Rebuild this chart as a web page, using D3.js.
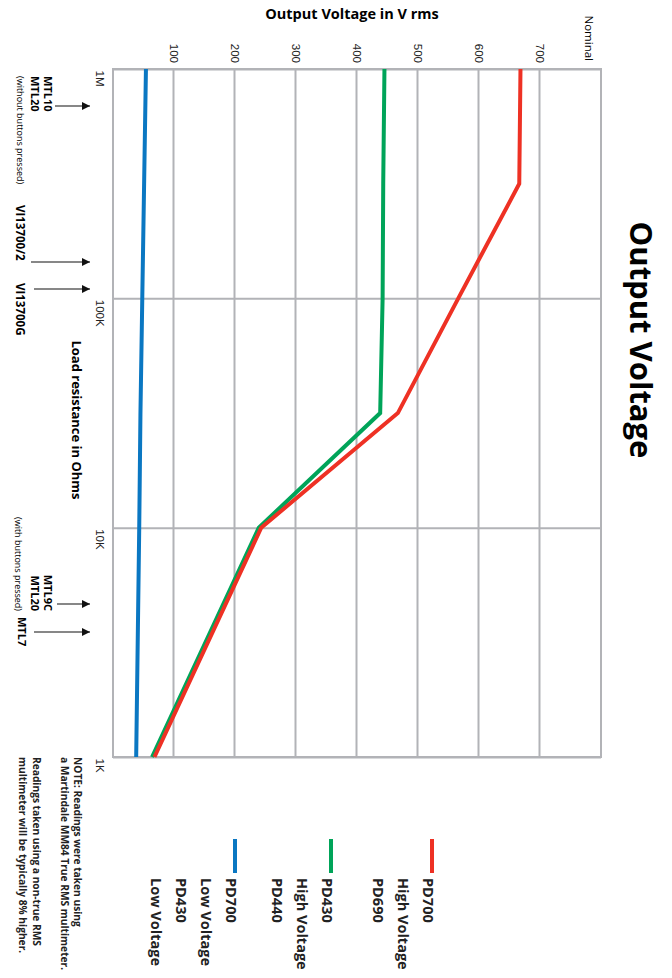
<!DOCTYPE html>
<html>
<head>
<meta charset="utf-8">
<script src="https://cdn.jsdelivr.net/npm/d3@7"></script>
<style>
  body { margin: 0; background: #fff; }
  svg { display: block; font-family: 'Open Sans', sans-serif; }
  .grid line { stroke: #b2b3b7; stroke-width: 2; }
  .grid path { display: none; }
  .grid text { font-size: 11.5px; fill: #222; }
</style>
</head>
<body>
<div id="chart"></div>
<script>
(function() {
  'use strict';

  // load resistance (ohms) where readings were taken
  var ohms = [1e6, 316000, 1e5, 31600, 1e4, 1e3];

  // output voltage, V rms
  var pd700High = [668, 666, 566, 467, 243, 68];
  var pd430High = [445, 443, 442, 438, 239, 64];
  var pd700Low  = [54, 51, 48, 45, 43, 38];

  var voltTicks = [100, 200, 300, 400, 500, 600, 700];
  var ohmTicks  = [1e6, 1e5, 1e4, 1e3];
  var ohmLabels = ['1M', '100K', '10K', '1K'];

  var seriesNames  = ['PD700 High', 'PD430 High', 'PD700 Low'];
  var seriesColors = ['#ee3124', '#00a459', '#0a77c2'];
  var legendLines  = [
    ['PD700', 'High Voltage', 'PD690'],
    ['PD430', 'High Voltage', 'PD440'],
    ['PD700', 'Low Voltage', 'PD430', 'Low Voltage']
  ];

  var width = 672, height = 978;

  var svg = d3.select('#chart').append('svg')
    .attr('width', width)
    .attr('height', height);

  // the whole chart is drawn landscape and turned a quarter clockwise
  var g = svg.append('g').attr('transform', 'translate(' + width + ',0) rotate(90)');

  var left = 69, right = 757, top = 71, bottom = 559;

  var x = d3.scaleLog().domain([1e6, 1e3]).range([left, right]);
  var y = d3.scaleLinear().domain([0, 800]).range([bottom, top]);

  // voltage grid + labels
  g.append('g')
    .attr('class', 'grid')
    .attr('transform', 'translate(' + left + ',0)')
    .call(d3.axisLeft(y).tickValues(voltTicks).tickSize(-(right - left)).tickPadding(6));

  // resistance grid + labels
  var xAxis = g.append('g')
    .attr('class', 'grid')
    .attr('transform', 'translate(0,' + bottom + ')')
    .call(d3.axisBottom(x).tickValues(ohmTicks)
      .tickFormat(function(d, i) { return ohmLabels[i]; })
      .tickSize(-(bottom - top)));
  xAxis.selectAll('text')
    .attr('text-anchor', 'start')
    .attr('x', 1)
    .attr('y', 17)
    .attr('dy', null);

  g.append('text')
    .attr('x', 61)
    .attr('y', 83)
    .attr('dy', '0.35em')
    .attr('text-anchor', 'end')
    .style('font-size', '11.5px')
    .text('Nominal');

  // frame
  g.append('rect')
    .attr('x', left).attr('y', top)
    .attr('width', right - left).attr('height', bottom - top)
    .attr('fill', 'none')
    .attr('stroke', '#b2b3b7')
    .attr('stroke-width', 2);

  var line = d3.line()
    .x(function(d) { return x(d[0]); })
    .y(function(d) { return y(d[1]); });

  [pd700Low, pd430High, pd700High].forEach(function(vals, k) {
    var idx = 2 - k;
    g.append('path')
      .datum(d3.zip(ohms, vals))
      .attr('fill', 'none')
      .attr('stroke', seriesColors[idx])
      .attr('stroke-width', 4)
      .attr('d', line);
  });

  // titles
  g.append('text')
    .attr('x', 340).attr('y', 42)
    .attr('text-anchor', 'middle')
    .style('font-size', '31px').style('font-weight', 'bold')
    .text('Output Voltage');

  g.append('text')
    .attr('x', 420).attr('y', 600)
    .attr('text-anchor', 'middle')
    .style('font-size', '13px').style('font-weight', 'bold')
    .text('Load resistance in Ohms');

  svg.append('text')
    .attr('x', 352).attr('y', 19)
    .attr('text-anchor', 'middle')
    .style('font-size', '14.5px').style('font-weight', 'bold')
    .text('Output Voltage in V rms');

  // meter annotations
  svg.append('defs').append('marker')
    .attr('id', 'arrow')
    .attr('viewBox', '0 0 10 10')
    .attr('refX', 10).attr('refY', 5)
    .attr('markerWidth', 8).attr('markerHeight', 8)
    .attr('markerUnits', 'userSpaceOnUse')
    .attr('orient', 'auto')
    .append('path').attr('d', 'M0,0L10,5L0,10Z').attr('fill', '#111');

  var notes = [
    { t: 'MTL10', x: 76, y: 628, s: 11, b: true },
    { t: 'MTL20', x: 76, y: 641, s: 11, b: true },
    { t: '(without buttons pressed)', x: 76, y: 655, s: 9 },
    { t: 'VI13700/2', x: 205, y: 656, s: 11.5, b: true },
    { t: 'VI13700G', x: 283, y: 656, s: 11.5, b: true },
    { t: '(with buttons pressed)', x: 611, y: 657, s: 9, end: true },
    { t: 'MTL9C', x: 611, y: 628, s: 11, b: true, end: true },
    { t: 'MTL20', x: 611, y: 641, s: 11, b: true, end: true },
    { t: 'MTL7', x: 617, y: 654, s: 11, b: true }
  ];
  g.selectAll('.note').data(notes).enter().append('text')
    .attr('x', function(d) { return d.x; })
    .attr('y', function(d) { return d.y; })
    .attr('text-anchor', function(d) { return d.end ? 'end' : 'start'; })
    .style('font-size', function(d) { return d.s + 'px'; })
    .style('font-weight', function(d) { return d.b ? 'bold' : 'normal'; })
    .text(function(d) { return d.t; });

  var arrows = [[106, 617], [262, 641], [289, 638], [604, 615], [632, 638]];
  g.selectAll('.arrow').data(arrows).enter().append('line')
    .attr('x1', function(d) { return d[0]; })
    .attr('x2', function(d) { return d[0]; })
    .attr('y1', function(d) { return d[1]; })
    .attr('y2', 582)
    .attr('stroke', '#111')
    .attr('stroke-width', 1.2)
    .attr('marker-end', 'url(#arrow)');

  // reading note
  var readNote = [
    ['NOTE: Readings were taken using', 598],
    ['a Martindale MM84 True RMS multimeter.', 611],
    ['Readings taken using a non-true RMS', 639],
    ['multimeter will be typically 8% higher.', 653]
  ];
  g.selectAll('.read').data(readNote).enter().append('text')
    .attr('x', 757)
    .attr('y', function(d) { return d[1]; })
    .style('font-size', '10.2px').style('font-weight', 'bold')
    .style('fill', '#222')
    .text(function(d) { return d[0]; });

  // legend
  var legendY = [240, 341, 437];
  var leg = g.selectAll('.legend').data(seriesNames).enter().append('g')
    .attr('transform', function(d, i) { return 'translate(839,' + legendY[i] + ')'; });
  leg.append('line')
    .attr('x1', 0).attr('x2', 34)
    .attr('stroke', function(d, i) { return seriesColors[i]; })
    .attr('stroke-width', 4);
  leg.each(function(d, i) {
    d3.select(this).selectAll('text').data(legendLines[i]).enter().append('text')
      .attr('x', 39)
      .attr('y', function(t, j) { return 9 + j * 25; })
      .style('font-size', '14.5px').style('font-weight', 'bold')
      .style('fill', '#222')
      .text(function(t) { return t; });
  });
}());
</script>
</body>
</html>
